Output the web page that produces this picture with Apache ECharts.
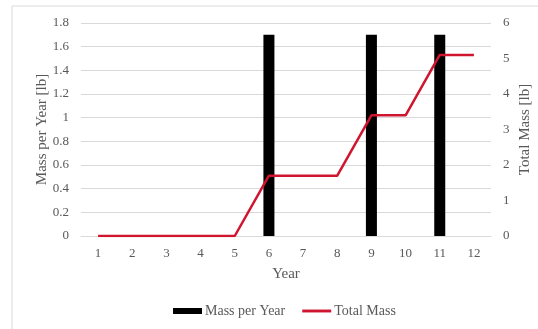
<!DOCTYPE html>
<html><head><meta charset="utf-8">
<script src="https://cdn.jsdelivr.net/npm/echarts@6/dist/echarts.min.js"></script>
<style>html,body{margin:0;padding:0;background:#fff}#c{width:538px;height:329px}</style>
</head><body><div id="c"></div>
<script>
const years = ['1','2','3','4','5','6','7','8','9','10','11','12'];
const massPerYear = [0,0,0,0,0,1.7,0,0,1.7,0,1.7,0];
const totalMass = [0,0,0,0,0,1.7,1.7,1.7,3.4,3.4,5.1,5.1];
const leftTicks = {min:0,max:1.8,interval:0.2};
const rightTicks = {min:0,max:6,interval:1};

const font = 'Liberation Serif';
const gray = '#595959';
const chart = echarts.init(document.getElementById('c'));
chart.setOption({
  animation:false,
  graphic:[{type:'rect',shape:{x:12,y:6,width:540,height:340},style:{fill:'none',stroke:'#d9d9d9',lineWidth:1},silent:true}],
  grid:{left:81,right:47,top:23,bottom:93,outerBoundsMode:'none',containLabel:false},
  legend:{top:304,left:173,padding:0,itemGap:17,itemWidth:29,itemHeight:6,
    textStyle:{fontFamily:font,fontSize:14,color:gray,padding:[0,0,0,-2]},
    data:[{name:'Mass per Year',icon:'rect'},{name:'Total Mass',icon:'path://M0,0 L30,0 L30,3 L0,3 Z'}]},
  xAxis:{type:'category',data:years,name:'Year',nameLocation:'middle',nameGap:31,
    nameTextStyle:{fontFamily:font,fontSize:15,color:gray},
    axisLine:{lineStyle:{color:'#d9d9d9'}},axisTick:{show:false},
    axisLabel:{fontFamily:font,fontSize:13,color:gray,margin:11}},
  yAxis:[{type:'value',min:leftTicks.min,max:leftTicks.max,interval:leftTicks.interval,
    name:'Mass per Year [lb]',nameLocation:'middle',nameGap:31,nameMoveOverlap:false,
    nameTextStyle:{fontFamily:font,fontSize:15,color:gray},
    axisLabel:{fontFamily:font,fontSize:13,color:gray,margin:12,formatter:v=>String(+v.toFixed(1))},
    splitLine:{lineStyle:{color:'#d9d9d9'}},axisLine:{show:false},axisTick:{show:false}},
   {type:'value',min:rightTicks.min,max:rightTicks.max,interval:rightTicks.interval,
    name:'Total Mass [lb]',nameLocation:'middle',nameGap:27,nameMoveOverlap:false,
    nameTextStyle:{fontFamily:font,fontSize:15,color:gray},
    axisLabel:{fontFamily:font,fontSize:13,color:gray,margin:12},
    splitLine:{show:false},axisLine:{show:false},axisTick:{show:false}}],
  series:[
    {name:'Mass per Year',type:'bar',data:massPerYear,yAxisIndex:0,barWidth:11,itemStyle:{color:'#000'}},
    {name:'Total Mass',type:'line',data:totalMass,yAxisIndex:1,symbol:'none',
      lineStyle:{color:'#d0152f',width:2.5},itemStyle:{color:'#d0152f'}}
  ]
});
</script></body></html>
